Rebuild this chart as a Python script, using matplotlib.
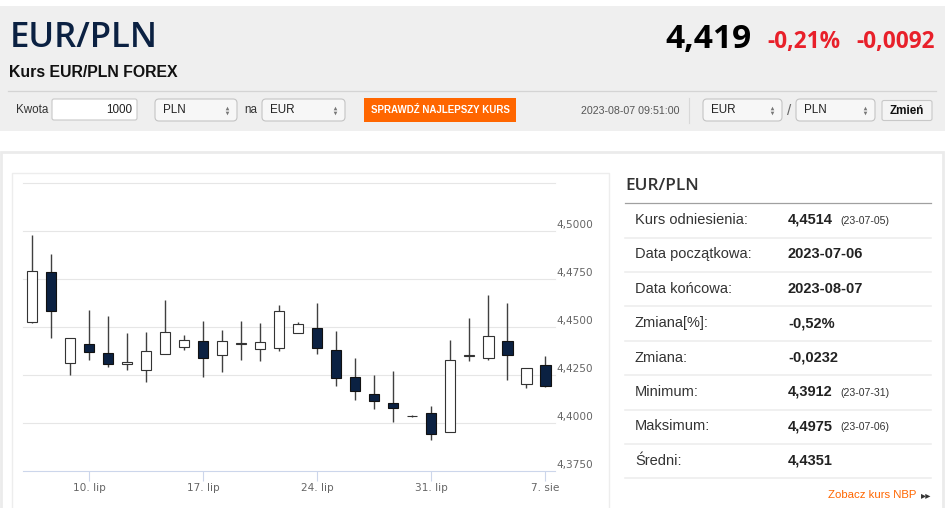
import matplotlib
matplotlib.use('Agg')
import matplotlib.pyplot as plt
from matplotlib.patches import Rectangle, FancyBboxPatch
import numpy as np

# daily EUR/PLN candles (forex, Sunday sessions included)
dates = ['2023-07-06', '2023-07-07', '2023-07-09', '2023-07-10', '2023-07-11',
         '2023-07-12', '2023-07-13', '2023-07-14', '2023-07-16', '2023-07-17',
         '2023-07-18', '2023-07-19', '2023-07-20', '2023-07-21', '2023-07-23',
         '2023-07-24', '2023-07-25', '2023-07-26', '2023-07-27', '2023-07-28',
         '2023-07-30', '2023-07-31', '2023-08-01', '2023-08-02', '2023-08-03',
         '2023-08-04', '2023-08-06', '2023-08-07']
opens = [4.4525, 4.4785, 4.4314, 4.4412, 4.4366, 4.4305, 4.4277, 4.4357, 4.4397, 4.4426,
         4.4352, 4.4410, 4.4383, 4.4388, 4.4466, 4.4491, 4.4379, 4.4239, 4.4152, 4.4105,
         4.4034, 4.4049, 4.3954, 4.4349, 4.4340, 4.4428, 4.4200, 4.4300]
highs = [4.4975, 4.4878, 4.4444, 4.4586, 4.4558, 4.4468, 4.4473, 4.4640, 4.4456, 4.4532,
         4.4482, 4.4532, 4.4518, 4.4614, 4.4525, 4.4622, 4.4480, 4.4340, 4.4249, 4.4270,
         4.4040, 4.4087, 4.4433, 4.4548, 4.4663, 4.4626, 4.4284, 4.4346]
lows = [4.4520, 4.4444, 4.4249, 4.4326, 4.4291, 4.4275, 4.4211, 4.4357, 4.4379, 4.4241,
        4.4265, 4.4326, 4.4320, 4.4374, 4.4466, 4.4357, 4.4192, 4.4117, 4.4070, 4.4006,
        4.4031, 4.3912, 4.3951, 4.4320, 4.4327, 4.4223, 4.4180, 4.4186]
closes = [4.4790, 4.4583, 4.4444, 4.4367, 4.4308, 4.4317, 4.4374, 4.4473, 4.4431, 4.4336,
          4.4426, 4.4414, 4.4421, 4.4582, 4.4516, 4.4388, 4.4232, 4.4166, 4.4116, 4.4077,
          4.4036, 4.3944, 4.4327, 4.4353, 4.4451, 4.4352, 4.4284, 4.4190]

tick_dates = ['2023-07-10', '2023-07-17', '2023-07-24', '2023-07-31', '2023-08-07']
tick_labels = ['10. lip', '17. lip', '24. lip', '31. lip', '7. sie']
y_ticks = [4.375, 4.400, 4.425, 4.450, 4.475, 4.500]
y_top = 4.525

stats_labels = ['Kurs odniesienia:', 'Data początkowa:', 'Data końcowa:', 'Zmiana[%]:',
                'Zmiana:', 'Minimum:', 'Maksimum:', 'Średni:']
stats_values = ['4,4514', '2023-07-06', '2023-08-07', '-0,52%', '-0,0232',
                '4,3912', '4,4975', '4,4351']
stats_dates = ['(23-07-05)', '', '', '', '', '(23-07-31)', '(23-07-06)', '']

W, H = 948, 508
ARIAL = 'Liberation Sans'
OPEN = 'Open Sans'
red = '#e8202a'
navy = '#0b2142'

fig = plt.figure(figsize=(W / 100, H / 100), dpi=100)
fig.patch.set_facecolor('white')

# page background drawn in pixel coordinates
bg = fig.add_axes([0, 0, 1, 1])
bg.set_xlim(0, W)
bg.set_ylim(H, 0)
bg.axis('off')


def box(x0, y0, x1, y1, fc='none', ec='none', lw=1, r=0):
    if r:
        p = FancyBboxPatch((x0, y0), x1 - x0, y1 - y0,
                           boxstyle='round,pad=0,rounding_size=%g' % r,
                           fc=fc, ec=ec, lw=lw)
    else:
        p = Rectangle((x0, y0), x1 - x0, y1 - y0, fc=fc, ec=ec, lw=lw)
    bg.add_patch(p)


def select(x0, x1, label):
    box(x0, 99, x1, 121, fc='#f7f7f7', ec='#c4c4c4', lw=0.8, r=4)
    bg.text(x0 + 8, 110, label, family=ARIAL, fontsize=8.4, color='#222',
            va='center')
    bg.plot([x1 - 10], [107.5], marker='^', ms=2.6, color='#777', mew=0)
    bg.plot([x1 - 10], [112.5], marker='v', ms=2.6, color='#777', mew=0)


# header
box(0, 6, 945, 131, fc='#efefef')
bg.text(10, 47, 'EUR/PLN', family=OPEN, fontsize=25, weight='semibold', color=navy,
        va='baseline')
bg.text(752, 48, '4,419', family=OPEN, fontsize=24, weight='bold', color='black',
        ha='right', va='baseline')
bg.text(767, 48, '-0,21%', family=OPEN, fontsize=16.3, weight='bold', color=red,
        va='baseline')
bg.text(935, 48, '-0,0092', family=OPEN, fontsize=16.3, weight='bold', color=red,
        ha='right', va='baseline')
bg.text(9, 77, 'Kurs EUR/PLN FOREX', family=ARIAL, fontsize=11.4, weight='bold',
        color='#111', va='baseline')
bg.plot([8, 936], [90.5, 90.5], color='#d4d4d4', lw=0.9)

# controls row
bg.text(16, 110, 'Kwota', family=ARIAL, fontsize=8.4, color='#333', va='center')
box(52, 99, 137, 120, fc='white', ec='#c8c8c8', lw=0.8, r=2)
bg.text(132, 110, '1000', family=ARIAL, fontsize=8.4, color='#222', ha='right',
        va='center')
select(155, 237, 'PLN')
bg.text(244, 110, 'na', family=ARIAL, fontsize=8.4, color='#333', va='center')
select(262, 345, 'EUR')
box(364, 98, 516, 122, fc='#ff6600')
bg.text(440, 110, 'SPRAWDŹ NAJLEPSZY KURS', family=ARIAL, fontsize=7, weight='bold',
        color='white', ha='center', va='center')
bg.text(581, 111, '2023-08-07 09:51:00', family=ARIAL, fontsize=7.7, color='#555',
        va='center')
bg.plot([689.5, 689.5], [98, 123], color='#d8d8d8', lw=0.8)
select(703, 782, 'EUR')
bg.text(789, 111, '/', family=ARIAL, fontsize=11, color='#666', ha='center',
        va='center')
select(796, 875, 'PLN')
box(882, 100.5, 932, 120.5, fc='#f4f4f4', ec='#c8c8c8', lw=0.8, r=2)
bg.text(907, 111, 'Zmień', family=ARIAL, fontsize=8.4, weight='bold', color='#111',
        ha='center', va='center')

# content panels
box(1, 152, 943, 512, fc='white', ec='#ebebeb', lw=2)
box(12.5, 172.5, 609.5, 512, fc='white', ec='#ededed', lw=1)

# stats panel
bg.text(625, 190, 'EUR/PLN', family=OPEN, fontsize=12.4, weight='semibold',
        color='#333', va='baseline')
bg.plot([625, 931], [202.5, 202.5], color='#a0a0a0', lw=0.9)
for i, (lab, val, dt) in enumerate(zip(stats_labels, stats_values, stats_dates)):
    yc = 220 + 34.4 * i
    bg.text(635, yc, lab, family=ARIAL, fontsize=10.5, color='#333', va='center')
    bg.text(788, yc, val, family=ARIAL, fontsize=10.5, weight='bold', color='#222',
            va='center')
    if dt:
        bg.text(840, yc + 0.5, dt, family=ARIAL, fontsize=7.6, color='#333',
                va='center')
    ys = 237.5 + 34.4 * i
    bg.plot([625, 931], [ys, ys], color='#ececec', lw=1.1)
bg.text(916, 495, 'Zobacz kurs NBP', family=ARIAL, fontsize=8.2, color='#ff6600',
        ha='right', va='center')
bg.text(926, 495, '▸▸', family='DejaVu Sans', fontsize=7.5, color='#333',
        ha='center', va='center')

# candlestick chart
left, right, top, bottom = 22.7, 555, 182.5, 471
ax = fig.add_axes([left / W, (H - bottom) / H, (right - left) / W, (bottom - top) / H])
ax.patch.set_alpha(0)

x = np.arange(len(dates))
o = np.array(opens)
c = np.array(closes)
up = c >= o
body_lo = np.minimum(o, c)
body_h = np.maximum(np.abs(c - o), 0.0001)

ax.vlines(x, lows, highs, color='#404040', lw=1.0, zorder=2)
ax.bar(x[up], body_h[up], bottom=body_lo[up], width=0.53, color='white',
       edgecolor='#333333', linewidth=0.8, zorder=3)
ax.bar(x[~up], body_h[~up], bottom=body_lo[~up], width=0.53, color=navy,
       edgecolor='#111111', linewidth=0.8, zorder=3)

for v in y_ticks[1:] + [y_top]:
    ax.axhline(v, color='#e6e6e6', lw=0.8, zorder=0, clip_on=False)
for v in y_ticks:
    ax.annotate(('%.4f' % v).replace('.', ','), xy=(1, v),
                xycoords=('axes fraction', 'data'), xytext=(1.2, 4.3),
                textcoords='offset points', va='center', ha='left',
                fontsize=7.6, color='#666666')

ax.set_xlim(-0.5, len(dates) - 0.5)
ax.set_ylim(y_ticks[0], y_top)
ax.set_yticks([])
ax.set_xticks([dates.index(d) for d in tick_dates], tick_labels)
ax.tick_params(axis='x', length=7.2, width=0.8, color='#ccd6eb', labelsize=7.6,
               labelcolor='#666666', pad=1.5)
for s in ['top', 'left', 'right']:
    ax.spines[s].set_visible(False)
ax.spines['bottom'].set_color('#ccd6eb')
ax.spines['bottom'].set_linewidth(0.8)

fig.savefig('out.png', dpi=100, facecolor='white')
